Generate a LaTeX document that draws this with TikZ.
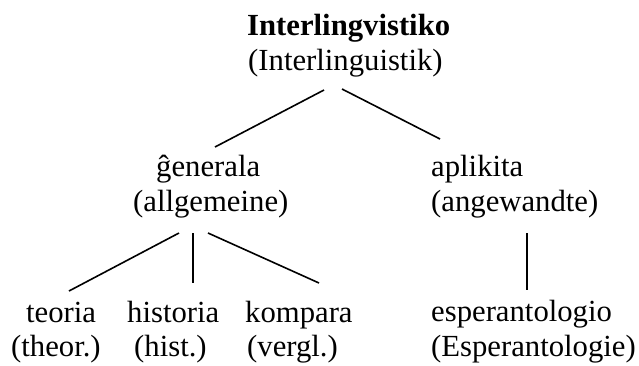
\documentclass[tikz,border=0pt]{standalone}
\usepackage{fontspec}
\setmainfont{Liberation Serif}
\begin{document}
\begin{tikzpicture}[x=1pt,y=-1pt,
  lbl/.style={anchor=base west, inner sep=0pt, font=\fontsize{30.7}{35}\selectfont},
  conn/.style={line width=1.6pt}]
\useasboundingbox (0,0) rectangle (639,365);

% root term
\node[lbl] (root)    at (247,35) {\textbf{Interlingvistiko}};
\node[lbl] (root-de) at (248,70) {(Interlinguistik)};

% second level
\node[lbl] (gen)    at (156,176) {ĝenerala};
\node[lbl] (gen-de) at (133,211) {(allgemeine)};
\node[lbl] (apl)    at (431,176) {aplikita};
\node[lbl] (apl-de) at (431,211) {(angewandte)};

% third level
\node[lbl] (teo)    at (26,322)  {teoria};
\node[lbl] (teo-de) at (11,356)  {(theor.)};
\node[lbl] (his)    at (127,322) {historia};
\node[lbl] (his-de) at (134,356) {(hist.)};
\node[lbl] (kom)    at (245,322) {kompara};
\node[lbl] (kom-de) at (247,356) {(vergl.)};
\node[lbl] (esp)    at (431,321) {esperantologio};
\node[lbl] (esp-de) at (431,356) {(Esperantologie)};

% branch points below each parent and above each child
\coordinate (root-l) at (324,90);
\coordinate (root-r) at (342,89);
\coordinate (gen-top) at (215,147);
\coordinate (apl-top) at (440,139);
\coordinate (gen-l) at (179,233);
\coordinate (gen-m) at (193,233);
\coordinate (gen-r) at (208,233);
\coordinate (teo-top) at (69,291);
\coordinate (his-top) at (193,283);
\coordinate (kom-top) at (319,283);
\coordinate (apl-b) at (527,233);
\coordinate (esp-top) at (527,290);

\draw[conn] (root-l) -- (gen-top);
\draw[conn] (root-r) -- (apl-top);
\draw[conn] (gen-l) -- (teo-top);
\draw[conn] (gen-m) -- (his-top);
\draw[conn] (gen-r) -- (kom-top);
\draw[conn] (apl-b) -- (esp-top);
\end{tikzpicture}
\end{document}
